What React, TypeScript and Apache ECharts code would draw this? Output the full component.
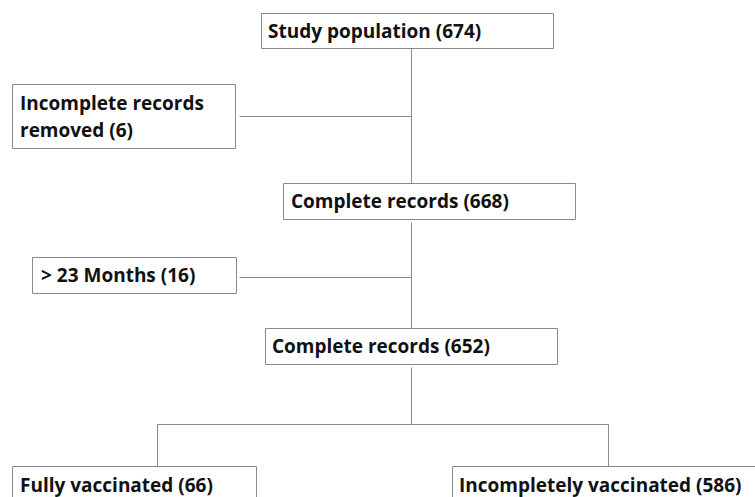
import React, { useEffect, useRef } from "react";
import * as echarts from "echarts";

// ---- Data ----
const stepLabels = [
  "Study population",
  "Incomplete records removed",
  "Complete records",
  "> 23 Months",
  "Complete records",
  "Fully vaccinated",
  "Incompletely vaccinated",
];
const stepCounts = [674, 6, 668, 16, 652, 66, 586];
// box 1 text is wrapped onto two lines
const wrapAfterWord = [0, 2, 0, 0, 0, 0, 0];

// ---- Layout (pixels) ----
const boxRects: number[][] = [
  [261, 13, 292, 35],
  [12, 84, 223, 64],
  [283, 183, 292, 36],
  [32, 257, 204, 36],
  [265, 328, 292, 36],
  [12, 466, 244, 60],
  [452, 466, 340, 60],
];
const textOffsets: number[][] = [
  [7, 18],
  [8, 32],
  [8, 18],
  [9, 18],
  [7, 18],
  [8, 19],
  [7, 19],
];
const connectors: number[][][] = [
  [[411, 48], [411, 183]],
  [[239, 116], [411, 116]],
  [[411, 222], [411, 328]],
  [[239, 277], [411, 277]],
  [[411, 367], [411, 424]],
  [[157, 424], [608, 424]],
  [[157, 424], [157, 466]],
  [[608, 424], [608, 466]],
];

const FONT = "'Open Sans'";
const FS = 19;

export default function App() {
  const ref = useRef<HTMLDivElement>(null);
  useEffect(() => {
    document.body.style.margin = "0";
    if (!ref.current) return;
    const chart = echarts.init(ref.current, null, { renderer: "svg" });
    const els: any[] = [];
    connectors.forEach((c) => {
      els.push({
        type: "line",
        shape: { x1: c[0][0] + 0.5, y1: c[0][1] + 0.5, x2: c[1][0] + 0.5, y2: c[1][1] + 0.5 },
        style: { stroke: "#8a8a8a", lineWidth: 1 },
      });
    });
    stepLabels.forEach((lab, i) => {
      const r = boxRects[i];
      els.push({
        type: "rect",
        shape: { x: r[0] + 0.5, y: r[1] + 0.5, width: r[2], height: r[3] },
        style: { fill: "#ffffff", stroke: "#8a8a8a", lineWidth: 1 },
      });
      let text = `${lab} (${stepCounts[i]})`;
      if (wrapAfterWord[i] > 0) {
        const words = text.split(" ");
        text = words.slice(0, wrapAfterWord[i]).join(" ") + "\n" + words.slice(wrapAfterWord[i]).join(" ");
      }
      els.push({
        type: "text",
        style: {
          text,
          x: r[0] + textOffsets[i][0],
          y: r[1] + textOffsets[i][1],
          fill: "#111111",
          fontFamily: FONT,
          fontWeight: "bold",
          fontSize: FS,
          lineHeight: 27,
          align: "left",
          verticalAlign: "middle",
          textAlign: "left",
          textVerticalAlign: "middle",
        },
      });
    });
    chart.setOption({
      animation: false,
      backgroundColor: "#ffffff",
      graphic: { elements: els },
    });
    return () => chart.dispose();
  }, []);
  return (
    <div
      ref={ref}
      style={{ position: "absolute", left: 0, top: 0, width: 755, height: 497 }}
    />
  );
}
